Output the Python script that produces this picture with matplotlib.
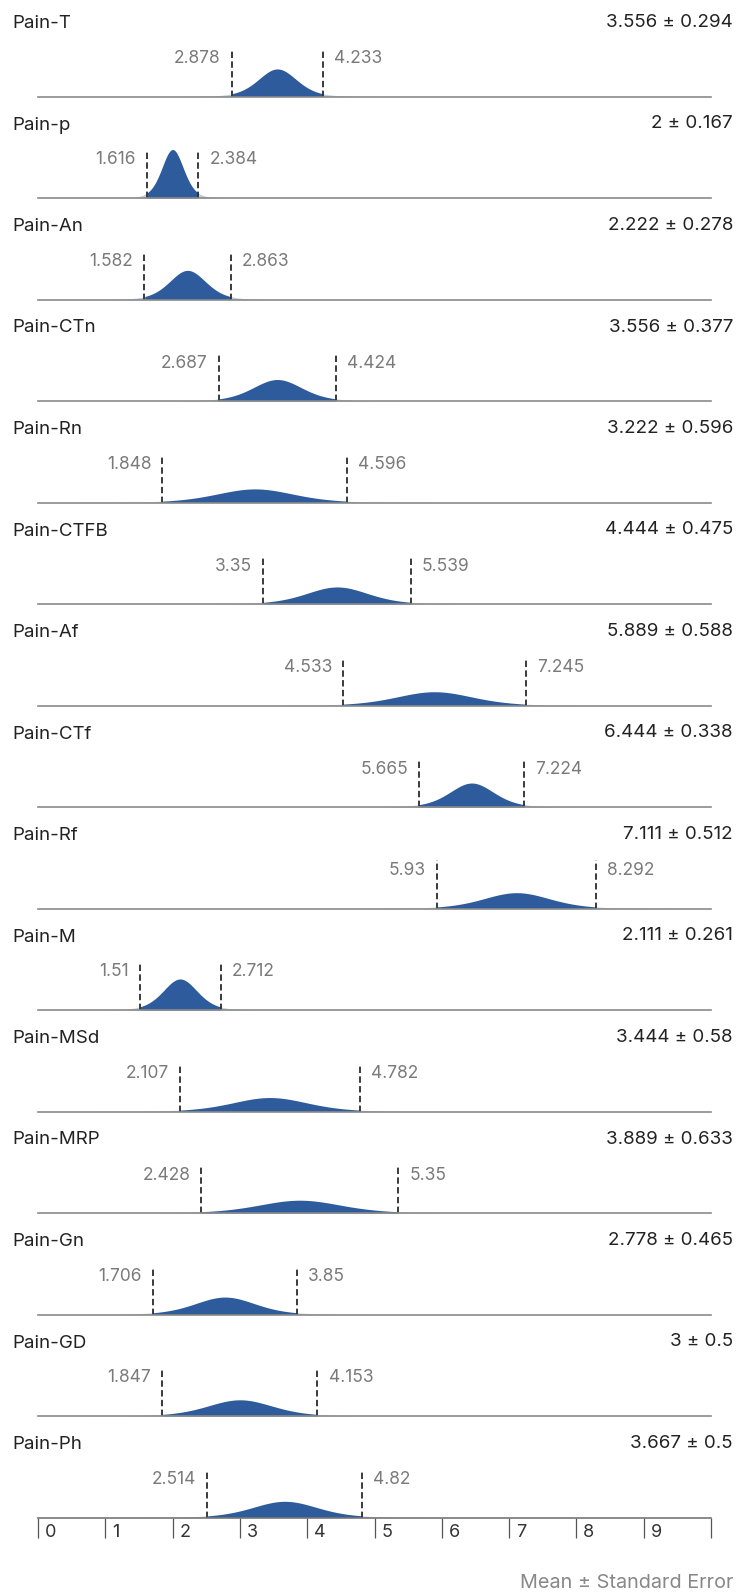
import math
import numpy as np
import matplotlib
matplotlib.use("Agg")
import matplotlib.pyplot as plt

plt.rcParams['font.family'] = ['Inter', 'DejaVu Sans']

# Per-measure summary: mean, standard error, 95% CI bounds (t, df = 8)
labels = ['Pain-T', 'Pain-p', 'Pain-An', 'Pain-CTn', 'Pain-Rn', 'Pain-CTFB',
          'Pain-Af', 'Pain-CTf', 'Pain-Rf', 'Pain-M', 'Pain-MSd', 'Pain-MRP',
          'Pain-Gn', 'Pain-GD', 'Pain-Ph']
means = [3.556, 2, 2.222, 3.556, 3.222, 4.444, 5.889, 6.444, 7.111, 2.111,
         3.444, 3.889, 2.778, 3, 3.667]
ses = [0.294, 0.167, 0.278, 0.377, 0.596, 0.475, 0.588, 0.338, 0.512, 0.261,
       0.58, 0.633, 0.465, 0.5, 0.5]
lowers = [2.878, 1.616, 1.582, 2.687, 1.848, 3.35, 4.533, 5.665, 5.93, 1.51,
          2.107, 2.428, 1.706, 1.847, 2.514]
uppers = [4.233, 2.384, 2.863, 4.424, 4.596, 5.539, 7.245, 7.224, 8.292, 2.712,
          4.782, 5.35, 3.85, 4.153, 4.82]
dof = 8
x_ticks = [0, 1, 2, 3, 4, 5, 6, 7, 8, 9, 10]
x_tick_labels = ['0', '1', '2', '3', '4', '5', '6', '7', '8', '9', '']
x_min, x_max = 0, 10

W, H, DPI = 740, 1594, 100
BLUE = '#2d5b9b'
GREY_TXT = '#7a7a7a'
DARK = '#222222'

fig = plt.figure(figsize=(W / DPI, H / DPI), dpi=DPI)
fig.patch.set_facecolor('white')

ax_left, ax_right = 38, 711          # pixel extent of the value axis
row0, row_step = 96.5, 101.5         # baseline of first row, spacing
ax_h = 75                            # pixels above each baseline
px_per_density = 20.95


def fy(py):
    return 1 - py / H


def fx(px):
    return px / W


def t_pdf(t, df):
    c = math.gamma((df + 1) / 2) / (math.sqrt(df * math.pi) * math.gamma(df / 2))
    return c * (1 + t ** 2 / df) ** (-(df + 1) / 2)


xs = np.linspace(x_min, x_max, 2000)
n = len(labels)
for i in range(n):
    base = row0 + i * row_step
    ax = fig.add_axes([fx(ax_left), fy(base), fx(ax_right - ax_left), ax_h / H])
    ax.set_xlim(x_min, x_max)
    ytop = ax_h / px_per_density
    ax.set_ylim(0, ytop)
    ax.patch.set_alpha(0)
    for s in ['top', 'left', 'right']:
        ax.spines[s].set_visible(False)
    ax.spines['bottom'].set_color('#8a8a8a')
    ax.spines['bottom'].set_linewidth(1.2)
    ax.set_yticks([])

    m, se, lo, hi = means[i], ses[i], lowers[i], uppers[i]
    dens = t_pdf((xs - m) / se, dof) / se
    inside = (xs >= lo) & (xs <= hi)
    ax.fill_between(xs, 0, dens, where=xs <= lo, color=BLUE, alpha=0.3,
                    linewidth=0)
    ax.fill_between(xs, 0, dens, where=xs >= hi, color=BLUE, alpha=0.3,
                    linewidth=0)
    ax.fill_between(xs, 0, dens, where=inside, color=BLUE, linewidth=0)

    dash_top = 48 / px_per_density
    for v in (lo, hi):
        ax.plot([v, v], [0, dash_top], color='#333333', linewidth=1.35,
                dashes=(3.4, 1.8), solid_capstyle='butt')

    ax.annotate(f'{lo:g}', xy=(lo, 38 / px_per_density), xytext=(-8, 0),
                textcoords='offset points', ha='right', va='center',
                fontsize=12.5, color=GREY_TXT)
    ax.annotate(f'{hi:g}', xy=(hi, 38 / px_per_density), xytext=(8, 0),
                textcoords='offset points', ha='left', va='center',
                fontsize=12.5, color=GREY_TXT)

    fig.text(fx(12), fy(base - 68.5), labels[i], ha='left', va='baseline',
             fontsize=13.5, color=DARK)
    fig.text(fx(733), fy(base - 69.5), f'{m:g} \u00b1 {se:g}', ha='right',
             va='baseline', fontsize=13.5, color=DARK)

    if i == n - 1:
        ax.set_xticks(x_ticks)
        ax.set_xticklabels([])
        ax.tick_params(axis='x', direction='out', length=14.5, width=0.9,
                       color='#555555')
        ax.spines['bottom'].set_color('#777777')
        for t, lab in zip(x_ticks, x_tick_labels):
            ax.annotate(lab, xy=(t, 0), xytext=(5, -11),
                        textcoords='offset points', ha='left', va='center',
                        fontsize=13, color='#333333', annotation_clip=False)
    else:
        ax.set_xticks([])

fig.text(fx(733), fy(1583), 'Mean \u00b1 Standard Error', ha='right',
         va='center', fontsize=14.3, color='#888888')

fig.savefig('out.png', dpi=DPI, facecolor='white')
